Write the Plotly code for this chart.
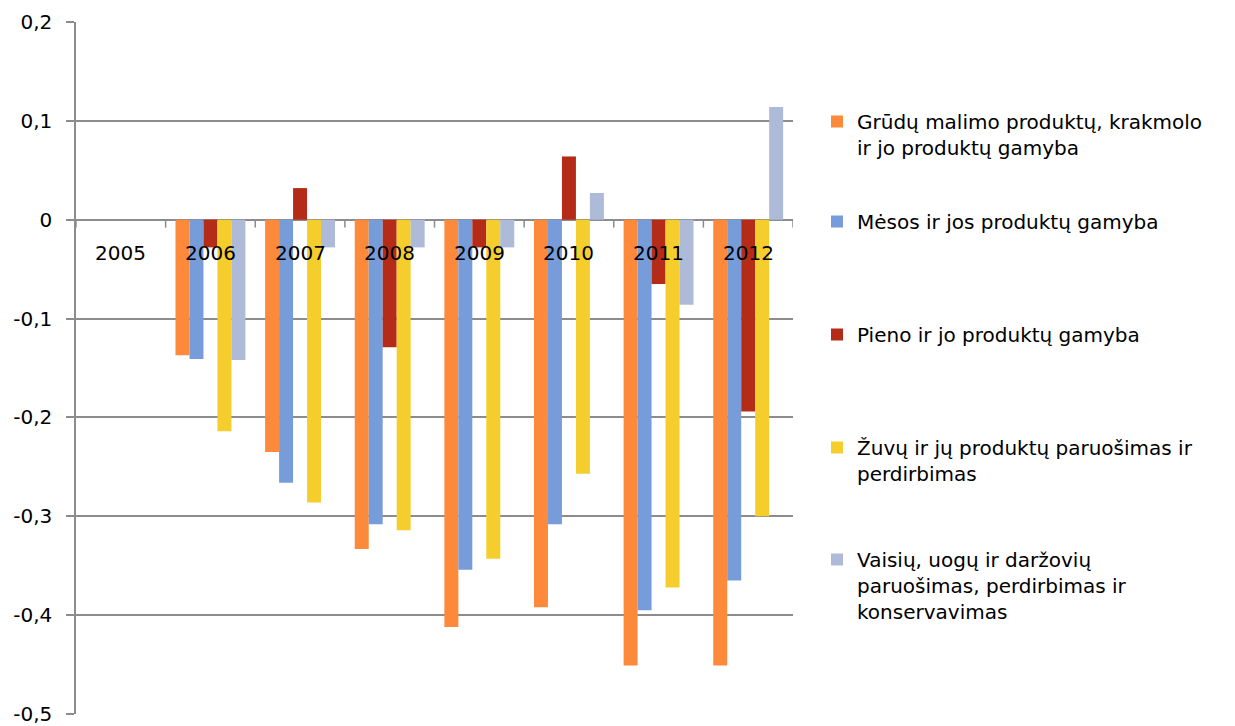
import plotly.graph_objects as go

years = ["2005", "2006", "2007", "2008", "2009", "2010", "2011", "2012"]
series_names = [
    "Grūdų malimo produktų, krakmolo<br>ir jo produktų gamyba",
    "Mėsos ir jos produktų gamyba",
    "Pieno ir jo produktų gamyba",
    "Žuvų ir jų produktų paruošimas ir<br>perdirbimas",
    "Vaisių, uogų ir daržovių<br>paruošimas, perdirbimas ir<br>konservavimas",
]
grudu = [0, -0.137, -0.235, -0.333, -0.412, -0.392, -0.451, -0.451]
mesos = [0, -0.141, -0.266, -0.308, -0.354, -0.308, -0.395, -0.365]
pieno = [0, -0.028, 0.032, -0.129, -0.028, 0.064, -0.065, -0.194]
zuvu = [0, -0.214, -0.286, -0.314, -0.343, -0.257, -0.372, -0.300]
vaisiu = [0, -0.142, -0.028, -0.028, -0.028, 0.027, -0.086, 0.114]
y_ticks = [0.2, 0.1, 0, -0.1, -0.2, -0.3, -0.4, -0.5]
y_ticktext = ["0,2", "0,1", "0", "-0,1", "-0,2", "-0,3", "-0,4", "-0,5"]

colors = ["#FD8A3A", "#779CDA", "#B42C18", "#F5CE2E", "#ADBAD8"]
values = [grudu, mesos, pieno, zuvu, vaisiu]

FONT = "DejaVu Sans"
OFF = 8  # browser body margin
W, H = 1235, 726
fig = go.Figure()
legend_tops = [102, 202, 315, 428, 540]
for i, (name, vals, col) in enumerate(zip(series_names, values, colors)):
    fig.add_trace(go.Bar(
        x=years, y=vals, name=name, marker=dict(color=col, line=dict(width=0)),
        legend=f"legend{i+2}",
    ))

grid = "#8C8C8C"
fig.update_layout(
    width=W, height=H,
    margin=dict(l=76 - OFF, r=W - (793 - OFF), t=22 - OFF, b=H - (714 - OFF)),
    plot_bgcolor="white", paper_bgcolor="white",
    barmode="group", bargap=0.22, bargroupgap=0,
    font=dict(family=FONT, size=20, color="black"),
    xaxis=dict(type="category", showticklabels=False, showgrid=False, zeroline=False,
               showline=False, range=[-0.5, 7.5], ticks=""),
    yaxis=dict(range=[-0.5, 0.2], tickvals=y_ticks, ticktext=y_ticktext,
               automargin=False, ticklabelstandoff=10,
               showgrid=True, gridcolor=grid, gridwidth=1.5,
               zeroline=True, zerolinecolor=grid, zerolinewidth=1.5,
               showline=True, linecolor=grid, linewidth=1.5,
               ticks="outside", ticklen=8, tickcolor=grid, tickwidth=1.5,
               tickfont=dict(family=FONT, size=20)),
    showlegend=True,
)

for i in range(5):
    key = f"legend{i+2}"
    fig.update_layout({key: dict(
        xref="container", yref="container", x=(817 - OFF) / W,
        y=1 - (legend_tops[i] - OFF) / H,
        xanchor="left", yanchor="top", bgcolor="rgba(0,0,0,0)",
        font=dict(family=FONT, size=20), valign="top",
    )})

for i, yr in enumerate(years):
    fig.add_annotation(x=i, y=0, xref="x", yref="y", text=yr, showarrow=False,
                       yanchor="middle", yshift=-33, font=dict(family=FONT, size=20))

for k in range(9):
    fig.add_shape(type="line", xref="x", yref="y", x0=k - 0.5, x1=k - 0.5,
                  y0=0, y1=-0.008, line=dict(color=grid, width=1.5))

fig.write_html("out.html")
